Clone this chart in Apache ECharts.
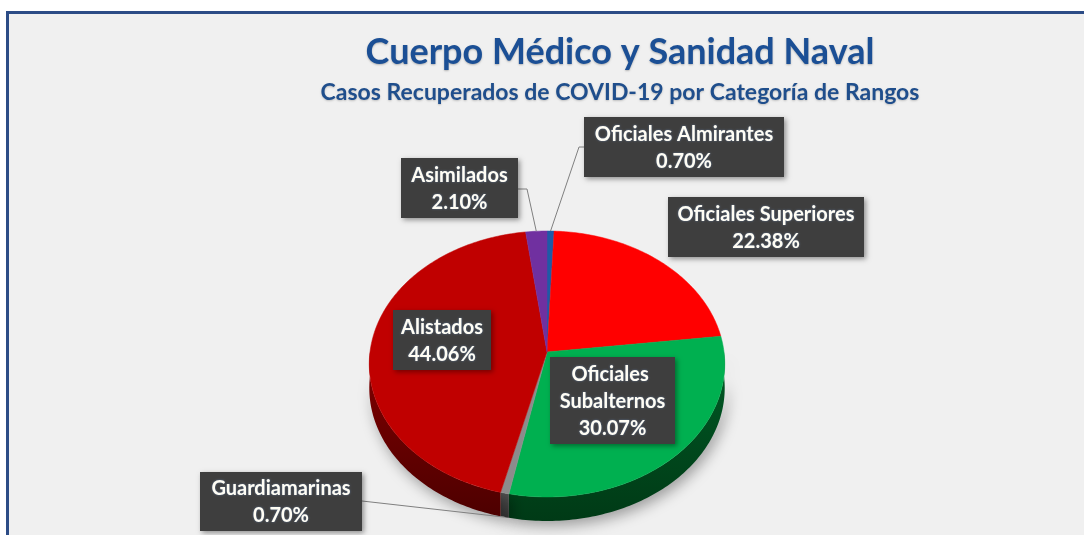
<!DOCTYPE html>
<html>
  <head>
    <meta charset="utf-8">
    <title>Cuerpo Médico y Sanidad Naval</title>
    <script src="https://cdn.jsdelivr.net/npm/echarts@6/dist/echarts.min.js"></script>
    <style>
      body{
        margin:0;
        background:#fff;
        overflow:hidden;
      }
      #frame{
        position:absolute;
        left:6px;
        top:11px;
        width:1100px;
        height:540px;
        background:#f0f0f0;
        border-left:3px solid #2c4c86;
        border-top:3px solid #2c4c86;
      }
      #chart{
        position:absolute;
        left:0;
        top:0;
        width:1084px;
        height:535px;
      }
    </style>
  </head>
  <body>
    <div id="frame"></div>
    <div id="chart"></div>
  <script>
    // datos
    var categories = ['Oficiales Almirantes', 'Oficiales Superiores', 'Oficiales Subalternos', 'Guardiamarinas', 'Alistados', 'Asimilados'];
    var percents = [0.70, 22.38, 30.07, 0.70, 44.06, 2.10];

    // colores de cada rebanada (cara superior y lateral)
    var topColors = ['#1f5aa6', '#ff0000', '#00b050', '#8c8c8c', '#c00000', '#7030a0'];
    var sideColors = ['#143e74', '#9a0000', '#005a25', '#505050', '#820000', '#4a2070'];
    var sideDark = ['#0b2548', '#600000', '#003a16', '#333333', '#4d0000', '#2c1244'];

    // geometria del pastel 3D (con algo de perspectiva)
    var pie = {cx: 547, cy: 352, rx: 177, ry: 131.9, k: -0.09, depth: 24};

    // cajas de etiqueta
    var labelBoxes = [
      {x: 584, y: 117, w: 200, h: 60, leader: [[584, 147], [579, 147]], anchor: 'top'},
      {x: 668, y: 197, w: 196, h: 60},
      {x: 550, y: 357, w: 125, h: 87},
      {x: 200, y: 472, w: 162, h: 59, leader: [[362, 501]], anchor: 'side'},
      {x: 393, y: 310, w: 98, h: 60},
      {x: 401, y: 158, w: 117, h: 60, leader: [[518, 189], [527, 189]], anchor: 'top'}
    ];

    var total = percents.reduce(function(a, b){ return a + b; }, 0);
    var starts = [];
    var acc = 0;
    percents.forEach(function(v){ starts.push(acc); acc += v; });

    function pt(theta, dy){
      var u = Math.sin(theta), w = -Math.cos(theta);
      var d = 1 + pie.k * w;
      return [pie.cx + pie.rx * u / d, pie.cy + pie.ry * w / d + (dy || 0)];
    }
    function angles(i, v){
      var a1 = starts[i] / total * Math.PI * 2;
      var a2 = (starts[i] + v) / total * Math.PI * 2;
      return [a1, a2];
    }
    function arc(a1, a2, dy){
      var pts = [];
      var n = Math.max(2, Math.ceil((a2 - a1) / (Math.PI / 180)));
      for (var k = 0; k <= n; k++) {
        pts.push(pt(a1 + (a2 - a1) * k / n, dy));
      }
      return pts;
    }

    var seriesData = percents.map(function(v, i){
      return {name: categories[i], value: [v, i]};
    });

    var myChart = echarts.init(document.getElementById('chart'));
    option = {
        backgroundColor: 'transparent',
        animation: false,
        title: [
          {
            text: 'Cuerpo Médico y Sanidad Naval',
            left: 615,
            top: 29,
            textAlign: 'center',
            textStyle: {fontFamily: 'Lato', fontSize: 36, fontWeight: 'bold', color: '#1b4f95',
                        textShadowColor: 'rgba(0,0,0,0.25)', textShadowBlur: 2, textShadowOffsetY: 1}
          },
          {
            text: 'Casos Recuperados de COVID-19 por Categoría de Rangos',
            left: 615,
            top: 76,
            textAlign: 'center',
            textStyle: {fontFamily: 'Lato', fontSize: 23, fontWeight: 'bold', color: '#1f4e8c',
                        textShadowColor: 'rgba(0,0,0,0.2)', textShadowBlur: 2, textShadowOffsetY: 1}
          }
        ],
        series: [
          {
            // lateral
            type: 'custom',
            coordinateSystem: 'none',
            z: 1,
            data: seriesData,
            renderItem: function(params, api){
              var i = api.value(1);
              var a = angles(i, api.value(0));
              var s = Math.max(a[0], Math.PI / 2);
              var e = Math.min(a[1], Math.PI * 1.5);
              if (s >= e) return {type: 'group', children: []};
              var pts = arc(s, e, 0).concat(arc(s, e, pie.depth).reverse());
              return {
                type: 'polygon',
                shape: {points: pts},
                style: {
                  fill: {type: 'linear', x: 0, y: 0, x2: 0, y2: 1,
                         colorStops: [{offset: 0, color: sideColors[i]}, {offset: 1, color: sideDark[i]}]},
                  shadowBlur: 14,
                  shadowColor: 'rgba(0,0,0,0.35)',
                  shadowOffsetX: 3,
                  shadowOffsetY: 5
                }
              };
            }
          },
          {
            // cara superior
            type: 'custom',
            coordinateSystem: 'none',
            z: 2,
            data: seriesData,
            renderItem: function(params, api){
              var i = api.value(1);
              var a = angles(i, api.value(0));
              var pts = [[pie.cx, pie.cy]].concat(arc(a[0], a[1], 0));
              return {
                type: 'polygon',
                shape: {points: pts},
                style: {fill: topColors[i], stroke: topColors[i], lineWidth: 0.5}
              };
            }
          },
          {
            // etiquetas
            type: 'custom',
            coordinateSystem: 'none',
            z: 3,
            data: seriesData,
            renderItem: function(params, api){
              var i = api.value(1);
              var v = api.value(0);
              var b = labelBoxes[i];
              var children = [];
              if (b.leader) {
                var a = angles(i, v);
                var mid = (a[0] + a[1]) / 2;
                var end = b.anchor === 'side' ? pt(mid, pie.depth) : pt(mid, 0);
                children.push({
                  type: 'polyline',
                  shape: {points: b.leader.concat([end])},
                  style: {stroke: '#7f7f7f', lineWidth: 1, fill: null}
                });
              }
              children.push({
                type: 'rect',
                shape: {x: b.x, y: b.y, width: b.w, height: b.h},
                style: {fill: '#3e3e3e', shadowBlur: 5, shadowColor: 'rgba(0,0,0,0.4)', shadowOffsetX: 2, shadowOffsetY: 2}
              });
              children.push({
                type: 'text',
                x: b.x + b.w / 2,
                y: b.y + b.h / 2 + 1,
                style: {
                  text: categories[i] + '\n' + v.toFixed(2) + '%',
                  fill: '#fffdf4',
                  fontFamily: 'Lato',
                  fontSize: 20,
                  fontWeight: 'bold',
                  lineHeight: 27,
                  align: 'center',
                  verticalAlign: 'middle',
                  width: b.w - 8,
                  overflow: 'break',
                  textShadowColor: 'rgba(120,160,220,0.6)',
                  textShadowBlur: 2
                }
              });
              return {type: 'group', children: children};
            }
          }
        ]
    };

    myChart.setOption(option);
  </script>
  </body>
</html>
